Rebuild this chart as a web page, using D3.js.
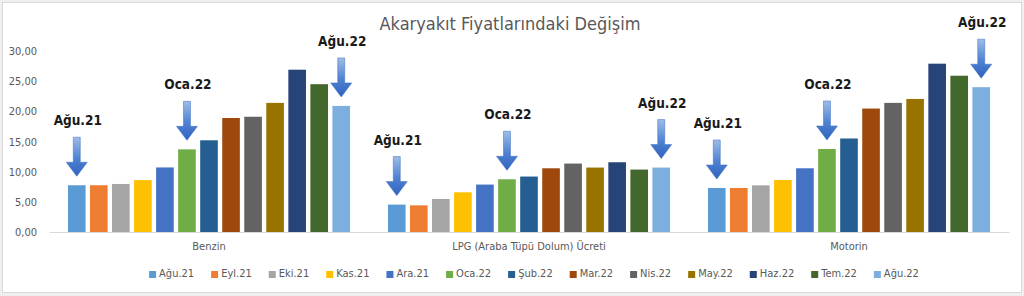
<!DOCTYPE html>
<html>
<head>
<meta charset="utf-8">
<script src="https://cdn.jsdelivr.net/npm/d3@7"></script>
<style>
    body { margin: 0; background: #efefef; }
    svg { display: block; }
    text { font-family: "Liberation Sans Narrow", "DejaVu Sans Condensed", "Arial Narrow", sans-serif; }
</style>
</head>
<body>
<div id="chart"></div>
<script>
// data
const categories = ["Benzin", "LPG (Araba Tüpü Dolum)  Ücreti", "Motorin"];
const months = ["Ağu.21", "Eyl.21", "Eki.21", "Kas.21", "Ara.21", "Oca.22", "Şub.22",
    "Mar.22", "Nis.22", "May.22", "Haz.22", "Tem.22", "Ağu.22"];
const benzin = [7.75, 7.75, 7.96, 8.60, 10.70, 13.70, 15.20, 18.90, 19.10, 21.40, 26.90, 24.50, 20.90];
const lpg = [4.54, 4.42, 5.47, 6.58, 7.86, 8.74, 9.19, 10.56, 11.34, 10.68, 11.56, 10.35, 10.68];
const motorin = [7.30, 7.30, 7.74, 8.62, 10.56, 13.76, 15.50, 20.46, 21.40, 22.05, 27.90, 25.90, 24.00];
const yTicks = [0, 5, 10, 15, 20, 25, 30];
const markedMonths = ["Ağu.21", "Oca.22", "Ağu.22"];
const colors = ["#5B9BD5", "#ED7D31", "#A5A5A5", "#FFC000", "#4472C4", "#70AD47", "#255E91",
    "#9E480E", "#636363", "#997300", "#264478", "#43682B", "#7CAFDD"];

const series = [benzin, lpg, motorin];

const W = 1024, H = 296;
const margin = {top: 51, right: 15, bottom: 64, left: 49};

const svg = d3.select("#chart").append("svg")
    .attr("width", W)
    .attr("height", H);

// frame
svg.append("rect")
    .attr("x", 2.5).attr("y", 2.5)
    .attr("width", W - 5).attr("height", H - 6)
    .attr("fill", "#ffffff")
    .attr("stroke", "#d9d9d9");

const defs = svg.append("defs");
const grad = defs.append("linearGradient")
    .attr("id", "arrowGrad")
    .attr("x1", 0).attr("y1", 0).attr("x2", 0).attr("y2", 1);
grad.append("stop").attr("offset", "0%").attr("stop-color", "#9dbde8");
grad.append("stop").attr("offset", "55%").attr("stop-color", "#4f82d2");
grad.append("stop").attr("offset", "100%").attr("stop-color", "#2f62bd");

const x0 = d3.scaleBand()
    .domain(categories)
    .range([margin.left, W - margin.right])
    .padding(0);

const x1 = d3.scaleBand()
    .domain(months)
    .range([0, x0.bandwidth()])
    .paddingInner(0.2)
    .paddingOuter(0.86);

const y = d3.scaleLinear()
    .domain([0, 30])
    .range([H - margin.bottom, margin.top]);

const color = d3.scaleOrdinal().domain(months).range(colors);

// title
svg.append("text")
    .attr("x", 510)
    .attr("y", 30)
    .attr("text-anchor", "middle")
    .attr("font-size", 18)
    .attr("fill", "#595959")
    .text("Akaryakıt Fiyatlarındaki Değişim");

// y axis (labels only)
const yAxis = d3.axisLeft(y)
    .tickValues(yTicks)
    .tickSize(0)
    .tickPadding(12)
    .tickFormat(d => d.toFixed(2).replace(".", ","));

const gy = svg.append("g")
    .attr("transform", "translate(" + margin.left + ",0)")
    .call(yAxis);
gy.select(".domain").remove();
gy.selectAll("text").attr("font-size", 11).attr("fill", "#595959")
    .style("font-family", "'Liberation Sans Narrow', 'DejaVu Sans Condensed', sans-serif");

// x axis
const xAxis = d3.axisBottom(x0).tickSize(0).tickPadding(10);
const gx = svg.append("g")
    .attr("transform", "translate(0," + y(0) + ")")
    .call(xAxis);
gx.select(".domain").attr("stroke", "#d9d9d9");
gx.selectAll("text").attr("font-size", 11).attr("fill", "#595959")
    .style("font-family", "'Liberation Sans Narrow', 'DejaVu Sans Condensed', sans-serif");

// bars
const groups = svg.selectAll(".grp")
    .data(categories)
    .enter()
    .append("g")
    .attr("class", "grp")
    .attr("transform", d => "translate(" + x0(d) + ",0)");

groups.selectAll("rect")
    .data((d, i) => series[i].map((v, j) => ({month: months[j], value: v})))
    .enter()
    .append("rect")
    .attr("x", d => x1(d.month))
    .attr("y", d => y(d.value))
    .attr("width", x1.bandwidth())
    .attr("height", d => y(0) - y(d.value))
    .attr("fill", d => color(d.month));

// arrows + labels above marked months
groups.each(function (cat, i) {
    let g = d3.select(this);
    markedMonths.forEach(function (m) {
        let idx = months.indexOf(m);
        let cx = x1(m) + x1.bandwidth() / 2;
        let tip = y(series[i][idx]) - 9;
        let headTop = tip - 14;
        let top = tip - 39;
        let path = d3.path();
        path.moveTo(cx - 3.5, top);
        path.lineTo(cx + 3.5, top);
        path.lineTo(cx + 3.5, headTop);
        path.lineTo(cx + 10.5, headTop);
        path.lineTo(cx, tip);
        path.lineTo(cx - 10.5, headTop);
        path.lineTo(cx - 3.5, headTop);
        path.closePath();
        g.append("path")
            .attr("d", path.toString())
            .attr("fill", "url(#arrowGrad)")
            .attr("stroke", "#3d6cc0")
            .attr("stroke-width", 0.5);
        g.append("text")
            .attr("x", cx + 1)
            .attr("y", top - 12)
            .attr("text-anchor", "middle")
            .attr("font-size", 13.5)
            .attr("font-weight", "bold")
            .attr("fill", "#1a1a1a")
            .text(m);
    });
});

// legend
const legend = svg.append("g");
const items = legend.selectAll(".item")
    .data(months)
    .enter()
    .append("g")
    .attr("class", "item");
items.append("rect")
    .attr("width", 7).attr("height", 7)
    .attr("y", -6)
    .attr("fill", d => color(d));
items.append("text")
    .attr("x", 10)
    .attr("y", 0)
    .attr("font-size", 11)
    .attr("fill", "#595959")
    .text(d => d);

let offset = 0;
items.each(function () {
    let w = d3.select(this).select("text").node().getComputedTextLength();
    d3.select(this).attr("transform", "translate(" + offset + ",0)");
    offset += 10 + w + 17;
});
offset -= 17;
legend.attr("transform", "translate(" + (534 - offset / 2) + ",277)");
</script>
</body>
</html>
